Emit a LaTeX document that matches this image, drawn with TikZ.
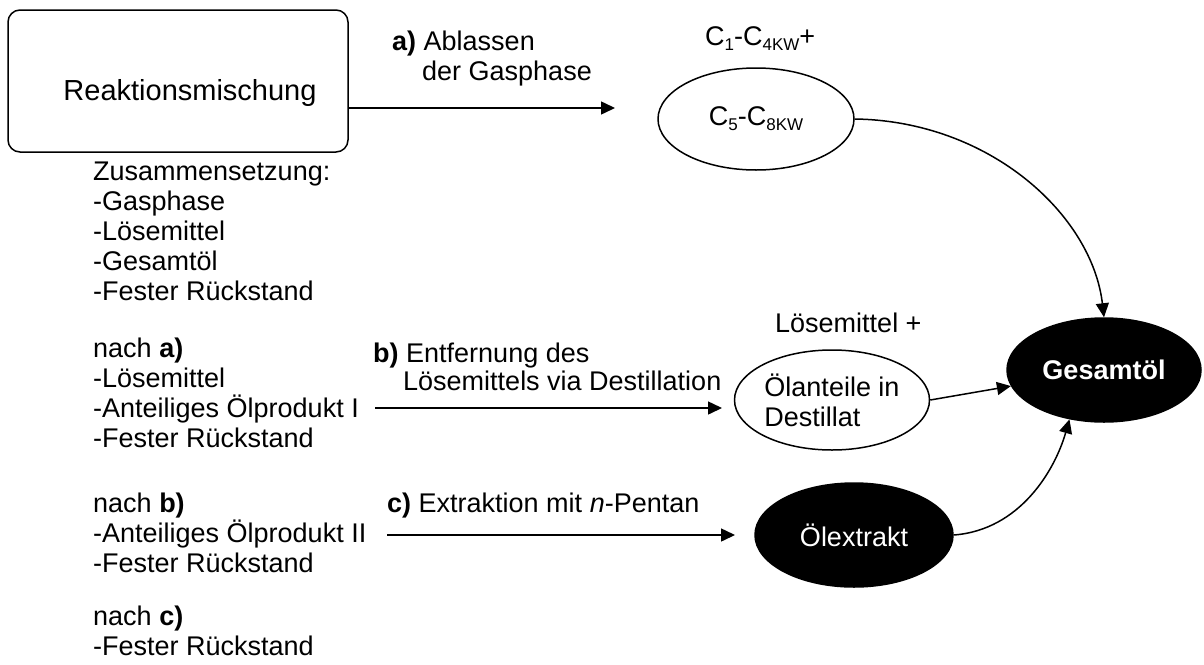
\documentclass[tikz,border=0pt]{standalone}
\usepackage{fontspec}
\setmainfont{Liberation Sans}
\usetikzlibrary{shapes.geometric,arrows.meta}
% lowered index for the hydrocarbon fractions
\newcommand\lowidx[1]{\raisebox{-5pt}{\fontsize{17}{17}\selectfont #1}}
\begin{document}
\begin{tikzpicture}[x=1pt,y=-1pt,
  txt/.style={anchor=base west,inner sep=0pt,font=\fontsize{27}{30}\selectfont},
  arr/.style={line width=1.5pt,-{Triangle[length=14pt,width=13pt]}},
  ell/.style={ellipse,draw,line width=1.5pt,inner sep=0pt,font=\fontsize{27}{30}\selectfont},
  blk/.style={ell,fill=black,text=white}]
\useasboundingbox (0,0) rectangle (1204,664);

% starting mixture
\node[draw,rounded corners=12pt,line width=1.5pt,minimum width=340pt,minimum height=142pt,inner sep=0pt] (mix) at (178,81) {};
\node[anchor=base,inner sep=0pt,font=\fontsize{29}{32}\selectfont] (mixtxt) at (190,100) {Reaktionsmischung};

% composition lists
\node[txt] (z0) at (93,180) {Zusammensetzung:};
\node[txt] (z1) at (93,210) {-Gasphase};
\node[txt] (z2) at (93,240) {-Lösemittel};
\node[txt] (z3) at (93,270) {-Gesamtöl};
\node[txt] (z4) at (93,300) {-Fester Rückstand};

\node[txt] (na0) at (93,357) {nach \textbf{a)}};
\node[txt] (na1) at (93,387) {-Lösemittel};
\node[txt] (na2) at (93,417) {-Anteiliges Ölprodukt I};
\node[txt] (na3) at (93,447) {-Fester Rückstand};

\node[txt] (nb0) at (93,512) {nach \textbf{b)}};
\node[txt] (nb1) at (93,542) {-Anteiliges Ölprodukt II};
\node[txt] (nb2) at (93,572) {-Fester Rückstand};

\node[txt] (nc0) at (93,625) {nach \textbf{c)}};
\node[txt] (nc1) at (93,655) {-Fester Rückstand};

% step a
\node[txt] (la1) at (392,50) {\textbf{a)} Ablassen};
\node[txt] (la2) at (422,80) {der Gasphase};
\node[txt] (gas) at (705,45) {C\lowidx{1}-C\lowidx{4KW}+};
\node[ell,minimum width=196pt,minimum height=102pt] (c5) at (756,119) {C\lowidx{5}-C\lowidx{8KW}};
\coordinate (aend) at (615,108);
\draw[arr] (mix.east |- aend) -- (aend);

% step b
\node[txt] (lb1) at (373,362) {\textbf{b)} Entfernung des};
\node[txt] (lb2) at (403,390) {Lösemittels via Destillation};
\node[txt] (solv) at (775,332) {Lösemittel +};
\node[ell,minimum width=195pt,minimum height=100pt,align=left] (oel) at (832,400) {Ölanteile in\\Destillat};
\coordinate (bs) at (375,408);
\coordinate (be) at (722,408);
\draw[arr] (bs) -- (be);

% step c
\node[txt] (lc1) at (387,512) {\textbf{c)} Extraktion mit \textit{n}-Pentan};
\node[blk,minimum width=198pt,minimum height=104pt] (ext) at (854,535) {Ölextrakt};
\coordinate (cs) at (387,535);
\coordinate (ce) at (735,535);
\draw[arr] (cs) -- (ce);

% total oil
\node[blk,minimum width=194pt,minimum height=104pt,font=\fontsize{27}{30}\selectfont\bfseries] (ges) at (1104,370) {Gesamtöl};

\draw[arr] (c5.east) .. controls (990,121) and (1092,215) .. (ges.north);
\draw[arr] (oel.east) -- (ges);
\draw[arr] (ext.east) .. controls (1020,530) and (1055,470) .. (ges.235);
\end{tikzpicture}
\end{document}
